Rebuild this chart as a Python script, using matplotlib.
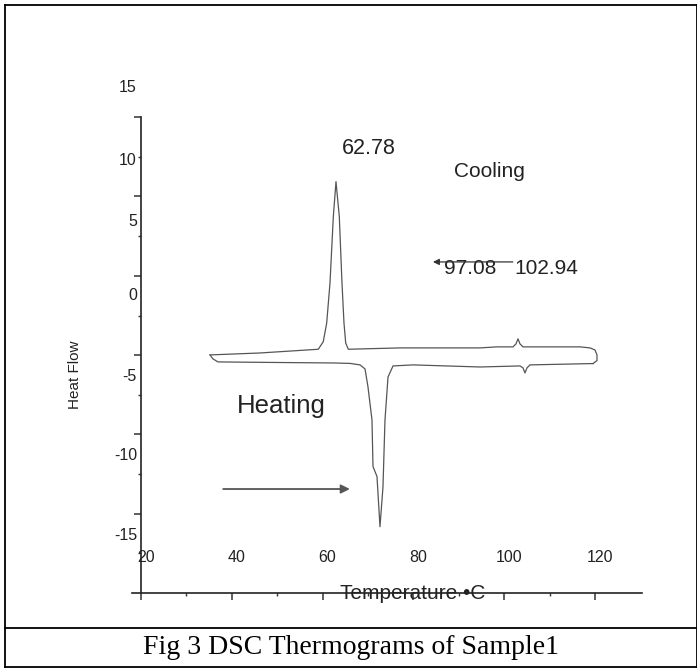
"""
DSC thermograms of Sample1 (cooling and heating runs)
"""
import numpy as np
import matplotlib
matplotlib.use("Agg")
import matplotlib.pyplot as plt
from matplotlib.lines import Line2D

plt.rcParams['font.family'] = ['Liberation Sans', 'DejaVu Sans']

# cooling run (upper trace), temperature in C and heat flow
cool_t = [35.20, 46.21, 59.05, 60.15, 60.90, 61.63, 62.36, 62.95, 63.68, 64.27,
          64.71, 65.09, 65.66, 77.05, 94.67, 98.41, 101.94, 102.60, 103.04, 103.48,
          104.14, 116.70, 118.90, 120.00, 120.44, 120.44, 119.56]
cool_hf = [-3.40, -3.27, -3.02, -2.51, -1.26, 1.43, 5.88, 8.23, 5.88, 1.43,
           -1.26, -2.60, -3.02, -2.93, -2.93, -2.86, -2.86, -2.66, -2.32, -2.66,
           -2.86, -2.86, -2.93, -3.07, -3.40, -3.78, -3.98]

# heating run (lower trace)
heat_t = [35.20, 35.86, 36.96, 50.62, 62.29, 66.04, 68.24, 69.34, 70.00, 70.88,
          71.10, 71.98, 72.64, 73.30, 73.74, 74.41, 75.51, 79.91, 94.67, 103.48,
          104.14, 104.58, 105.02, 105.68, 119.56]
heat_hf = [-3.40, -3.67, -3.87, -3.91, -3.94, -3.97, -4.07, -4.34, -5.55, -7.77,
           -10.89, -11.56, -14.93, -12.26, -7.77, -4.88, -4.14, -4.07, -4.21, -4.14,
           -4.27, -4.61, -4.27, -4.07, -3.98]

xtick_vals = [20, 40, 60, 80, 100, 120]
ytick_vals = [15, 10, 5, 0, -5, -10, -15]
peak_main = "62.78"
peak_small = ["97.08", "102.94"]

# the scanned labels sit a little off a linear scale; where they are drawn
ylabel_pos = [14.52, 9.68, 5.58, 0.62, -4.87, -10.15, -15.52]

W, H = 697, 669
fig = plt.figure(figsize=(W / 100, H / 100), dpi=100)
ax = fig.add_axes([0, 0, 1, 1])
ax.set_xlim(-11.06, 142.47)
ax.set_ylim(-24.48, 20.42)
ax.patch.set_visible(False)

txt = '#222222'
ax.plot(cool_t, cool_hf, color='#555555', lw=0.9)
ax.plot(heat_t, heat_hf, color='#555555', lw=0.9)

# axes lines like the scanned original
for s in ['top', 'right']:
    ax.spines[s].set_visible(False)
ax.spines['left'].set_position(('data', 20.0))
ax.spines['left'].set_bounds(-19.40, 12.57)
ax.spines['bottom'].set_position(('data', -19.40))
ax.spines['bottom'].set_bounds(18.0, 130.35)
for s in ['left', 'bottom']:
    ax.spines[s].set_color('#222222')
    ax.spines[s].set_linewidth(1.2)

ax.set_xticks(xtick_vals)
ax.set_xticks(np.arange(30, 120, 20), minor=True)
ax.set_yticks(-14.07 + 5.33 * np.arange(6))
ax.set_yticks(-16.69 + 5.31 * np.arange(6), minor=True)
ax.tick_params(which='major', direction='out', length=5, width=1.1, color='#333333',
               labelleft=False, labelbottom=False)
ax.tick_params(which='minor', direction='out', length=2.5, width=1.0, color='#333333')

for v in xtick_vals:
    ax.text(v + 1.1, -17.03, str(v), ha='center', va='center', fontsize=11.5, color=txt)
for v, p in zip(ytick_vals, ylabel_pos):
    ax.text(19.1, p, str(v), ha='right', va='center', fontsize=11.5, color=txt)

ax.text(79.9, -19.38, "Temperature \u2022C", ha='center', va='center', fontsize=15, color=txt)
ax.text(5.46, -4.72, "Heat Flow", ha='center', va='center', rotation=90, fontsize=11, color=txt)

ax.text(70.2, 10.42, peak_main, ha='center', va='center', fontsize=15.5, color=txt)
ax.text(96.8, 8.88, "Cooling", ha='center', va='center', fontsize=15, color=txt)
ax.text(92.5, 2.37, peak_small[0], ha='center', va='center', fontsize=15, color=txt)
ax.text(109.3, 2.37, peak_small[1], ha='center', va='center', fontsize=15, color=txt)
ax.annotate('', xy=(84.3, 2.84), xytext=(101.9, 2.84),
            arrowprops=dict(arrowstyle='-|>', color='#333333', lw=0.9, mutation_scale=9,
                            shrinkA=0, shrinkB=0))

ax.text(50.95, -6.83, "Heating", ha='center', va='center', fontsize=18.5, color=txt)
ax.annotate('', xy=(66.0, -12.40), xytext=(38.1, -12.40),
            arrowprops=dict(arrowstyle='-|>', color='#555555', lw=1.3, mutation_scale=13,
                            shrinkA=0, shrinkB=0))

# frame and caption box
def fline(x0, y0, x1, y1):
    fig.add_artist(Line2D([x0 / W, x1 / W], [1 - y0 / H, 1 - y1 / H],
                          transform=fig.transFigure, color='black', lw=1.3))

fline(5, 5, 697, 5)
fline(5, 5, 5, 667)
fline(696.5, 5, 696.5, 667)
fline(5, 628, 697, 628)
fline(5, 667, 697, 667)

fig.text(351 / W, 1 - 647 / H, "Fig 3 DSC Thermograms of Sample1", ha='center', va='center',
         fontsize=20, family=['Liberation Serif', 'DejaVu Serif'], color='black')

fig.savefig("out.png", dpi=100)
